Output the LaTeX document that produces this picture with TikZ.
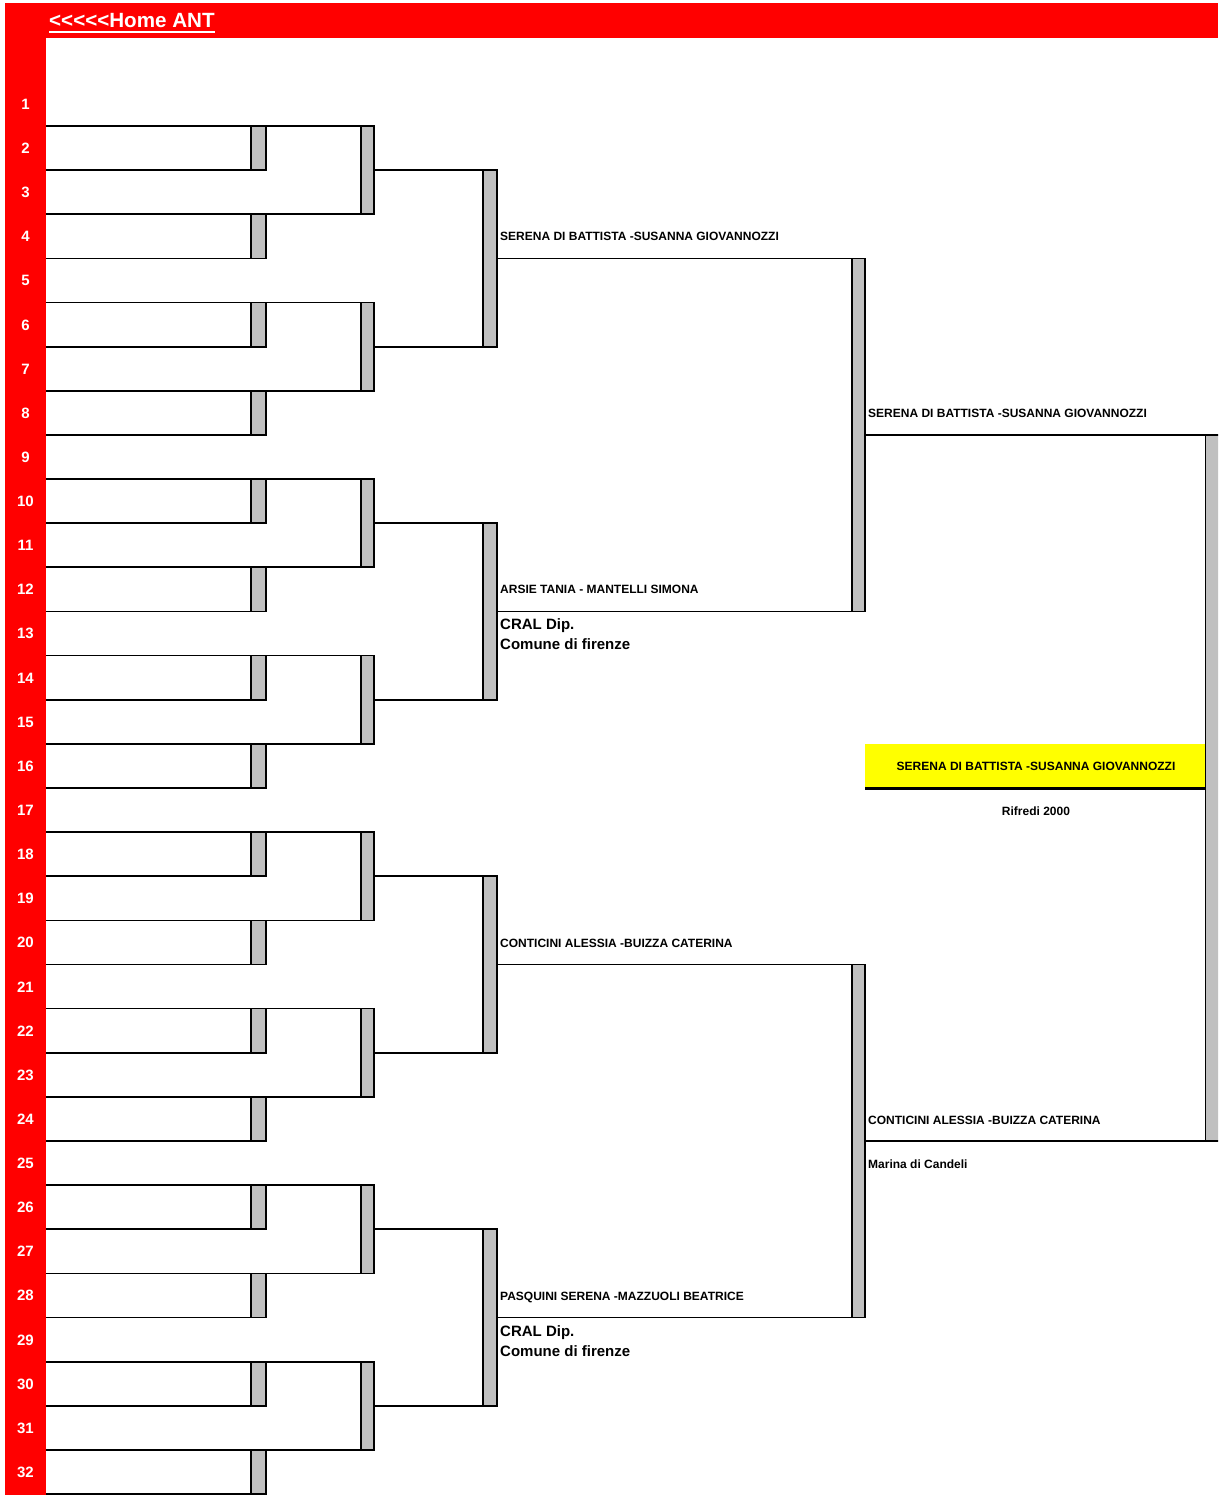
\documentclass[tikz,border=0pt]{standalone}
\usepackage{fontspec}
\setmainfont{Liberation Sans}[Ligatures=NoCommon]
\usetikzlibrary{calc}
\definecolor{xred}{RGB}{255,0,0}
\definecolor{xgray}{RGB}{192,192,192}
\definecolor{xyellow}{RGB}{255,255,0}
\tikzset{
  ln/.style={line width=1.7pt},
  barbox/.style={fill=xgray, draw=black, line width=1.7pt},
  small/.style={font=\fontsize{12}{13}\selectfont\bfseries, inner sep=0pt, anchor=base west},
  big/.style={font=\fontsize{15}{17}\selectfont\bfseries, inner sep=0pt, anchor=base west},
  rownum/.style={font=\fontsize{15}{17}\selectfont\bfseries, text=white, inner sep=0pt, anchor=base},
}
\begin{document}
\begin{tikzpicture}[x=1pt,y=-1pt]
\useasboundingbox (0,0) rectangle (1218,1495);
\clip (0,0) rectangle (1218,1495);
% red frame
\fill[xred] (5,3) rectangle (1218,38);
\fill[xred] (5,3) rectangle (46,1495);
\node[font=\fontsize{20.6}{22}\selectfont\bfseries, text=white, inner sep=0pt, anchor=base west] (title) at (49,28) {\symbol{60}\symbol{60}\symbol{60}\symbol{60}\symbol{60}Home ANT};
\draw[white, line width=1.7pt] ($(title.base west)+(0,3.8)$) -- ($(title.base east)+(0,3.8)$);
% row numbers
\foreach \k in {1,...,32}{
  \pgfmathsetmacro{\yy}{104+(\k-1)*44.13+5.4}
  \node[rownum] (r\k) at (25.5,\yy) {\k};
}
% first and second rounds
\foreach \g in {0,...,3}{
  \foreach \h in {0,1}{
    \pgfmathsetmacro{\s}{2+8*\g+4*\h}
    \pgfmathsetmacro{\ya}{81.9+(\s-1)*44.13}
    \pgfmathsetmacro{\yb}{\ya+44.13}
    \pgfmathsetmacro{\yc}{\ya+2*44.13}
    \pgfmathsetmacro{\yd}{\ya+3*44.13}
    \draw[ln] (46,\ya) -- (374,\ya);
    \draw[ln] (46,\yb) -- (266,\yb);
    \draw[ln] (46,\yc) -- (374,\yc);
    \draw[ln] (46,\yd) -- (266,\yd);
    \draw[ln] (374,\yb) -- (483,\yb);
    \draw[barbox] (251,\ya) rectangle (266,\yb);
    \draw[barbox] (251,\yc) rectangle (266,\yd);
    \draw[barbox] (361,\ya) rectangle (374,\yc);
  }
  \pgfmathsetmacro{\ye}{81.9+(2+8*\g)*44.13}
  \pgfmathsetmacro{\yf}{\ye+2*44.13}
  \pgfmathsetmacro{\yg}{\ye+4*44.13}
  \draw[ln] (497,\yf) -- (852,\yf);
  \draw[barbox] (483,\ye) rectangle (497,\yg);
}
% fourth round
\draw[ln] (865,434.94) -- (1205,434.94);
\draw[ln] (865,1141.02) -- (1205,1141.02);
\draw[barbox] (852,258.42) rectangle (865,611.46);
\draw[barbox] (852,964.50) rectangle (865,1317.54);
% final
\fill[xyellow] (865,744) rectangle (1205,787);
\draw[line width=3pt] (865,788.5) -- (1205,788.5);
\draw[barbox] (1205.5,434.94) rectangle (1222,1141.02);
% labels
\node[small] (w1) at (500,240.4) {SERENA DI BATTISTA -SUSANNA GIOVANNOZZI};
\node[small] (w2) at (500,593.9) {ARSIE TANIA - MANTELLI SIMONA};
\node[big] (c2a) at (500,629.5) {CRAL Dip.};
\node[big] (c2b) at (500,649.5) {Comune di firenze};
\node[small] (w3) at (500,947.0) {CONTICINI ALESSIA -BUIZZA CATERINA};
\node[small] (w4) at (500,1300.0) {PASQUINI SERENA -MAZZUOLI BEATRICE};
\node[big] (c4a) at (500,1336.0) {CRAL Dip.};
\node[big] (c4b) at (500,1356.0) {Comune di firenze};
\node[small] (s1) at (868,417.4) {SERENA DI BATTISTA -SUSANNA GIOVANNOZZI};
\node[small] (s2) at (868,1124.0) {CONTICINI ALESSIA -BUIZZA CATERINA};
\node[small] (s2c) at (868,1168.0) {Marina di Candeli};
\node[small, anchor=base] (champ) at (1036,770) {SERENA DI BATTISTA -SUSANNA GIOVANNOZZI};
\node[small, anchor=base] (champc) at (1036,815) {Rifredi 2000};
\end{tikzpicture}
\end{document}
